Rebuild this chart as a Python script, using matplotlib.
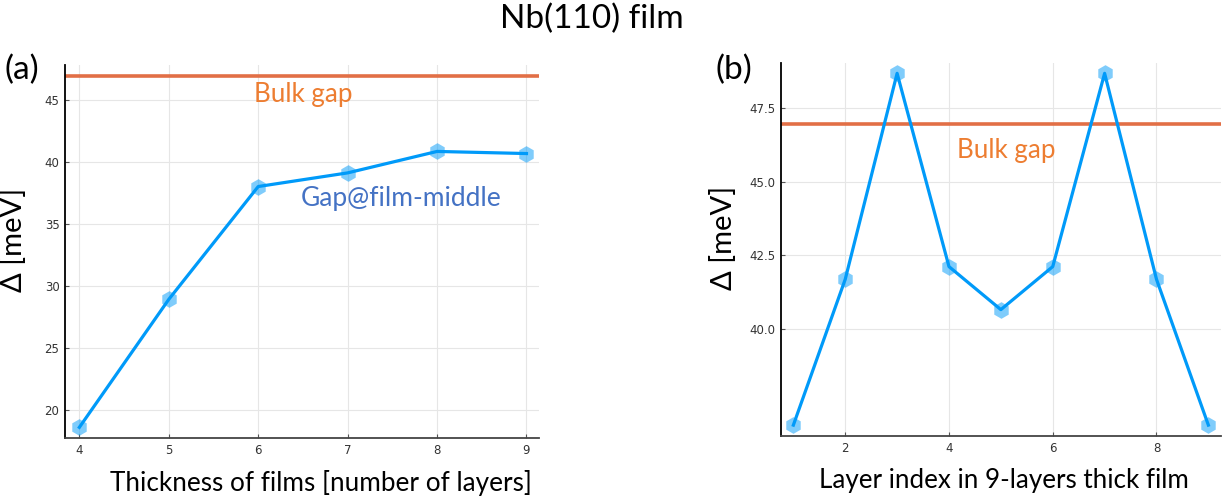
import numpy as np
import matplotlib.pyplot as plt

# gap vs film thickness (middle layer)
thickness = [4, 5, 6, 7, 8, 9]
gap_middle = [18.6, 28.92, 38.02, 39.12, 40.85, 40.68]

# gap profile across the 9-layer film
layer_idx = [1, 2, 3, 4, 5, 6, 7, 8, 9]
gap_layers = [36.74, 41.69, 48.68, 42.12, 40.66, 42.12, 48.68, 41.69, 36.74]

bulk_gap = 46.95

line_c = '#009af9'
bulk_c = '#e26f46'
lab_font = ['Lato', 'DejaVu Sans']

fig = plt.figure(figsize=(12.25, 4.97), dpi=100)
ax1 = fig.add_axes([0.0531, 0.1187, 0.3869, 0.7505])
ax2 = fig.add_axes([0.6376, 0.1227, 0.3592, 0.7505])


def style(ax):
    for s in ['top', 'right']:
        ax.spines[s].set_visible(False)
    ax.spines['left'].set_color('black')
    ax.spines['bottom'].set_color('#444444')
    ax.spines['left'].set_linewidth(1.3)
    ax.spines['bottom'].set_linewidth(1.3)
    ax.tick_params(direction='in', length=3, width=0.8, color='#555555',
                   labelsize=8.5, labelcolor='#333333', pad=4)
    ax.grid(True, color='#e6e6e6', linewidth=0.8)
    ax.set_axisbelow(True)


for ax, x, y in [(ax1, thickness, gap_middle), (ax2, layer_idx, gap_layers)]:
    style(ax)
    ax.axhline(bulk_gap, color=bulk_c, linewidth=2.6, zorder=2)
    ax.plot(x, y, linestyle='none', marker='h', markersize=12,
            color=line_c, alpha=0.5, markeredgewidth=0, zorder=3)
    ax.plot(x, y, color=line_c, linewidth=2.3, zorder=4)
    ax.set_ylabel('Δ [meV]', fontsize=21, family=lab_font)

ax1.set_xlim(3.84, 9.14)
ax1.set_ylim(17.74, 47.82)
ax1.set_xticks(thickness)
ax1.set_yticks([20, 25, 30, 35, 40, 45])
ax1.set_xlabel('Thickness of films [number of layers]', fontsize=18.8,
               family=lab_font)

ax2.set_xlim(0.763, 9.245)
ax2.set_ylim(36.37, 49.03)
ax2.set_xticks([2, 4, 6, 8])
ax2.set_yticks([40.0, 42.5, 45.0, 47.5])
ax2.set_yticklabels(['40.0', '42.5', '45.0', '47.5'])
ax2.set_xlabel('Layer index in 9-layers thick film', fontsize=18.7,
               family=lab_font)

# label placement
ax1.yaxis.set_label_coords(-0.080, 0.53)
ax2.yaxis.set_label_coords(-0.100, 0.53)
ax1.xaxis.set_label_coords(0.54, -0.085)
ax2.xaxis.set_label_coords(0.507, -0.085)

fig.text(0.4833, 0.962, 'Nb(110) film', fontsize=24, family=lab_font,
         ha='center', va='center')
fig.text(0.004, 0.86, '(a)', fontsize=24, family=lab_font, va='center')
fig.text(0.584, 0.86, '(b)', fontsize=24, family=lab_font, va='center')

fig.text(0.2473, 0.809, 'Bulk gap', fontsize=18.7, family=lab_font,
         color='#ed7d31', ha='center', va='center')
fig.text(0.8212, 0.698, 'Bulk gap', fontsize=18.7, family=lab_font,
         color='#ed7d31', ha='center', va='center')
fig.text(0.3273, 0.6016, 'Gap@film-middle', fontsize=19, family=lab_font,
         color='#4472c4', ha='center', va='center')

fig.savefig('out.png', dpi=100)
